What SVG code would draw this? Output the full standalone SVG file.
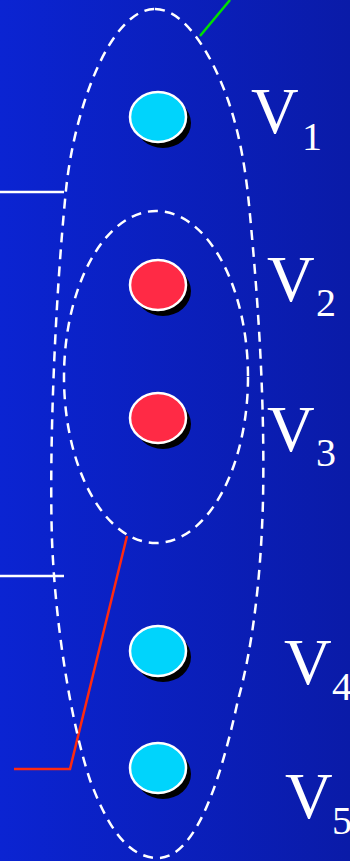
<svg xmlns="http://www.w3.org/2000/svg" width="350" height="861" viewBox="0 0 350 861">
<defs>
<linearGradient id="bg" x1="0" y1="0" x2="1" y2="0">
<stop offset="0" stop-color="#0b24d2"/>
<stop offset="1" stop-color="#0a1ba8"/>
</linearGradient>
<style>
.dash{fill:none;stroke:#fff;stroke-width:2.5;stroke-dasharray:10 7}
.sh{fill:#000}
.cy{fill:#00d4fc;stroke:#fff;stroke-width:2.5}
.rd{fill:#ff2a45;stroke:#fff;stroke-width:2.5}
.lbl{font-family:"Liberation Serif","Times New Roman",serif;fill:#fff;font-size:66px}
.sub{font-family:"Liberation Serif","Times New Roman",serif;fill:#fff;font-size:40px}
</style>
</defs>
<rect width="350" height="861" fill="url(#bg)"/>
<g id="connectors">
<line x1="0" y1="192" x2="64" y2="192" stroke="#fff" stroke-width="2.5"/>
<line x1="0" y1="576" x2="64" y2="576" stroke="#fff" stroke-width="2.5"/>
<line x1="200" y1="36" x2="230" y2="0" stroke="#00e000" stroke-width="2.5"/>
<polyline points="127,536 70,769 14,769" fill="none" stroke="#ff2a10" stroke-width="2.5"/>
</g>
<g id="outer-group">
<path class="dash" d="M155,9 C185,9 212,55 228,100 C240,135 246,170 250,215 C258,300 265,400 263,500 C261,580 252,650 238,700 C225,760 200,858 158,858 C125,858 105,820 90,780 C70,720 55,620 52,540 C49,450 55,300 66,190 C74,110 110,9 155,9 Z"/>
</g>
<g id="inner-group">
<ellipse class="dash" cx="156" cy="377" rx="92" ry="166"/>
</g>
<g id="v1">
<ellipse class="sh" cx="163" cy="123" rx="28" ry="25"/>
<ellipse class="cy" cx="158" cy="117" rx="28" ry="25"/>
<text class="lbl" x="251" y="133">V</text><text class="sub" x="302" y="150">1</text>
</g>
<g id="v2">
<ellipse class="sh" cx="163" cy="291" rx="28" ry="25"/>
<ellipse class="rd" cx="158" cy="285" rx="28" ry="25"/>
<text class="lbl" x="267" y="301">V</text><text class="sub" x="316" y="316">2</text>
</g>
<g id="v3">
<ellipse class="sh" cx="163" cy="424" rx="28" ry="25"/>
<ellipse class="rd" cx="158" cy="418" rx="28" ry="25"/>
<text class="lbl" x="267" y="451">V</text><text class="sub" x="316" y="466">3</text>
</g>
<g id="v4">
<ellipse class="sh" cx="163" cy="657" rx="28" ry="25"/>
<ellipse class="cy" cx="158" cy="651" rx="28" ry="25"/>
<text class="lbl" x="284" y="684">V</text><text class="sub" x="332" y="700">4</text>
</g>
<g id="v5">
<ellipse class="sh" cx="163" cy="774" rx="28" ry="25"/>
<ellipse class="cy" cx="158" cy="768" rx="28" ry="25"/>
<text class="lbl" x="285" y="818">V</text><text class="sub" x="332" y="834">5</text>
</g>
</svg>
